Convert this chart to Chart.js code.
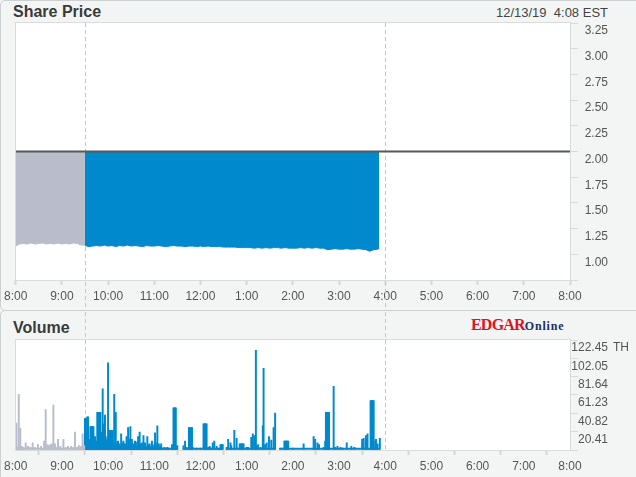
<!DOCTYPE html>
<html><head><meta charset="utf-8">
<script src="https://cdn.jsdelivr.net/npm/chart.js@4.4.1/dist/chart.umd.min.js"></script>
<style>
html,body{margin:0;padding:0}
body{width:636px;height:477px;overflow:hidden;position:relative;background:#f3f5f5;font-family:"Liberation Sans",Arial,sans-serif}
.panel{position:absolute;left:0;width:680px;border:1px solid #ccd0d0;border-radius:5px;box-sizing:border-box}
#p1{top:0;height:311px}
#p2{top:310px;height:200px}
.title{position:absolute;font-weight:bold;font-size:16px;color:#3a3a3a;white-space:nowrap}
#stamp{position:absolute;right:28px;top:5px;font-size:13px;color:#444;white-space:pre}
#logo{position:absolute;left:471px;top:316px;white-space:nowrap;font-family:"Liberation Serif","Times New Roman",serif;font-weight:bold}
#logo .e{color:#e3101e;font-size:16px;letter-spacing:-0.8px}
#logo .o{color:#1c2f66;font-size:12px;letter-spacing:0.8px}
canvas{position:absolute;left:0;top:0}
</style></head>
<body>
<div class="panel" id="p1"></div>
<div class="panel" id="p2"></div>
<div class="title" style="left:13px;top:3px">Share Price</div>
<div id="stamp">12/13/19  4:08 EST</div>
<div class="title" style="left:13px;top:319px">Volume</div>
<div id="logo"><span class="e">EDGAR</span><span class="o">Online</span></div>
<canvas id="price" width="636" height="477"></canvas>
<canvas id="volume" width="636" height="477"></canvas>
<script>
// ---------- data ----------
const dayStart = "8:00";
const dayEnd = "20:00";
const xTickTimes = ["8:00","9:00","10:00","11:00","12:00","13:00","14:00","15:00","16:00","17:00","18:00","19:00","20:00"];
const xTickLabels = ["8:00","9:00","10:00","11:00","12:00","1:00","2:00","3:00","4:00","5:00","6:00","7:00","8:00"];
const sessionMarks = ["9:30","16:00"];

const prevClose = 2.00;
const priceTicks = [0.75,1.00,1.25,1.50,1.75,2.00,2.25,2.50,2.75,3.00,3.25];

const priceStepMin = 5;
const prePriceStart = "8:00";
const prePrice = [1.08,1.10,1.105,1.10,1.11,1.10,1.105,1.11,1.10,1.105,1.10,1.11,1.10,1.105,1.10,1.11,1.105,1.09,1.09];
const regPriceStart = "9:30";
const regPrice = [1.085,1.075,1.08,1.085,1.08,1.09,1.08,1.085,1.075,1.085,1.08,1.09,1.08,1.085,1.08,1.075,1.085,1.08,1.08,1.085,
  1.08,1.075,1.08,1.085,1.08,1.08,1.075,1.08,1.08,1.075,1.08,1.075,1.08,1.075,1.075,1.075,1.07,1.07,1.07,1.07,
  1.065,1.065,1.065,1.065,1.06,1.065,1.06,1.065,1.06,1.065,1.065,1.06,1.065,1.06,1.06,1.06,1.065,1.06,1.065,1.06,
  1.065,1.06,1.06,1.045,1.05,1.055,1.05,1.05,1.055,1.05,1.05,1.055,1.05,1.045,1.03,1.045,1.05];
const lastTradeTime = "15:52";
const lastTradePrice = 1.055;

const volTicks = [0,20.41,40.82,61.23,81.64,102.05,122.45];
const volUnit = "TH";

const preVolTimes = ["8:00","8:01","8:02","8:04","8:06","8:08","8:10","8:13","8:16","8:19","8:22","8:25","8:29","8:33","8:37","8:39","8:41","8:43","8:45","8:47","8:49","8:51","8:53","8:55","8:58","9:02","9:05","9:08","9:12","9:15","9:17","9:20","9:22","9:25","9:27","9:29"];
const preVolValues = [30,30,3,62,24,4,3,8,4,3,8,3,6,4,10,45,6,5,6,7,50,7,3,12,4,12,3,4,4,3,20,3,5,4,18,5];

const regVolTimes = ["9:30","9:31","9:32","9:33","9:34","9:35","9:36","9:37","9:38","9:39","9:40","9:41","9:42","9:43","9:44","9:45","9:46","9:47","9:48","9:49",
  "9:50","9:51","9:52","9:53","9:54","9:55","9:56","9:57","9:58","9:59","10:00","10:01","10:02","10:03","10:04","10:05","10:06","10:07","10:08","10:09",
  "10:10","10:11","10:12","10:13","10:14","10:15","10:16","10:17","10:18","10:19","10:20","10:21","10:22","10:23","10:24","10:25","10:26","10:27","10:28","10:29",
  "10:30","10:31","10:32","10:33","10:34","10:35","10:36","10:37","10:38","10:39","10:40","10:41","10:42","10:43","10:44","10:45","10:46","10:47","10:48","10:49",
  "10:50","10:51","10:52","10:53","10:54","10:55","10:56","10:57","10:58","10:59","11:00","11:01","11:02","11:03","11:04","11:05","11:06","11:07","11:08","11:09",
  "11:10","11:13","11:15","11:17","11:19","11:23","11:24","11:25","11:26","11:27","11:28","11:29","11:30",
  "11:38","11:40","11:42","11:45","11:46","11:47","11:48","11:49","11:50","11:55","12:00","12:04","12:05","12:06","12:07","12:08","12:10","12:12","12:14","12:16","12:18","12:21","12:24","12:26","12:27","12:28","12:29",
  "12:34","12:36","12:39","12:40","12:44","12:47","12:51","12:52","12:53","12:54","12:55","12:56","13:00","13:01","13:02","13:06","13:08","13:10","13:12","13:13","13:15","13:18","13:21","13:22","13:24","13:26","13:29","13:32","13:35","13:37",
  "13:45","13:49","13:50","13:51","13:52","13:53","13:54","14:00","14:14","14:27","14:29","14:32","14:34","14:40","14:42","14:43","14:44","14:45","14:46","14:47","14:53","14:55","14:58",
  "15:02","15:05","15:10","15:16","15:20","15:30","15:32","15:35","15:37","15:41","15:42","15:43","15:44","15:45","15:47","15:48","15:50","15:53"];
const regVolValues = [35,35,35,37,37,8,12,26,26,26,26,26,10,15,6,10,42,42,42,42,
  42,20,14,68,29,20,39,15,10,12,97,18,22,22,22,22,22,8,62,12,
  42,6,9,10,5,7,4,18,6,8,10,4,7,4,15,5,25,8,12,26,
  9,12,6,7,4,10,8,5,9,15,6,20,7,4,8,3,16,6,8,4,
  3,15,4,6,7,3,4,10,5,3,6,19,8,4,27,5,7,3,4,7,
  2,3,2,3,2,6,2,47,47,47,47,4,5,
  5,10,3,25,25,25,25,25,3,2,2,29,29,29,29,29,3,4,2,8,10,4,2,6,6,6,6,
  3,12,8,5,22,13,7,7,7,7,7,7,3,3,3,14,18,16,111,5,6,3,27,91,6,8,15,11,25,41,
  2,10,10,10,10,10,10,2,7,15,12,8,6,3,10,42,42,42,42,42,71,3,4,
  3,2,8,4,3,12,13,16,18,55,55,55,55,55,10,12,7,13];

const floorVolume = 1.5;
const preFloorRanges = [["8:00","9:29"]];
const regFloorRanges = [["9:30","11:30"],["11:37","12:29"],["12:33","13:37"],["13:42","15:53"]];

// ---------- helpers ----------
const startHour = Number(dayStart.split(":")[0]);
function toMin(t){ const [h,m] = t.split(":").map(Number); return (h - startHour) * 60 + m; }
function floorData(ranges){
  const out = [];
  ranges.forEach(([a,b]) => { out.push({x:toMin(a),y:floorVolume},{x:toMin(b),y:floorVolume},{x:toMin(b)+0.5,y:null}); });
  return out;
}

const FONT = '"Liberation Sans", Arial, sans-serif';
Chart.defaults.font.family = FONT;
Chart.defaults.font.size = 12;
Chart.defaults.color = "#555";
Chart.defaults.animation = false;

const BLUE = "#0089cc";
const GREY = "#b9bdcb";

const panelPlugin = {
  id: "panel",
  beforeDraw(chart, args, o){
    const a = chart.chartArea, ctx = chart.ctx;
    ctx.save();
    ctx.fillStyle = "#ffffff";
    ctx.fillRect(a.left, a.top, a.right - a.left, a.bottom - a.top);
    ctx.restore();
  },
  beforeDatasetsDraw(chart, args, o){
    const a = chart.chartArea, ctx = chart.ctx, xs = chart.scales.x;
    const top = o.spanTop === undefined ? a.top : o.spanTop;
    const bottom = o.spanBottom === undefined ? a.bottom : o.spanBottom;
    ctx.save();
    ctx.strokeStyle = "#c4c8c8";
    ctx.lineWidth = 1;
    ctx.setLineDash([4,3]);
    sessionMarks.forEach(t => {
      const x = Math.round(xs.getPixelForValue(toMin(t))) + 0.5;
      ctx.beginPath(); ctx.moveTo(x, top); ctx.lineTo(x, bottom); ctx.stroke();
    });
    ctx.restore();
  },
  afterDraw(chart, args, o){
    const a = chart.chartArea, ctx = chart.ctx;
    ctx.save();
    ctx.strokeStyle = "#d9dcdc";
    ctx.lineWidth = 1;
    ctx.strokeRect(Math.round(a.left) - 0.5, Math.round(a.top) - 0.5, Math.round(a.right - a.left) + 1, Math.round(a.bottom - a.top) + 1);
    if (o.unit) {
      const ys = chart.scales.y;
      ctx.font = "12px " + FONT;
      const x = ys.right + 5;
      const y = ys.getPixelForValue(volTicks[volTicks.length - 1]) + ys.options.ticks.labelOffset;
      ctx.fillStyle = "#555";
      ctx.textBaseline = "middle";
      ctx.textAlign = "left";
      ctx.fillText(o.unit, x, y);
    }
    ctx.restore();
  }
};

function xScale(height){
  return {
    type: "linear", min: toMin(dayStart), max: toMin(dayEnd), offset: false,
    afterBuildTicks: s => { s.ticks = xTickTimes.map(t => ({value: toMin(t)})); },
    afterFit: s => { s.height = height; },
    grid: { drawOnChartArea: false, drawTicks: true, tickLength: 5, tickWidth: 2, tickColor: "#d3d7d7" },
    border: { display: false },
    ticks: { autoSkip: false, maxRotation: 0, padding: 4, color: "#555", callback: (v, i) => xTickLabels[i] }
  };
}
function yScale(tickValues, fmt){
  return {
    position: "right", min: tickValues[0], max: tickValues[tickValues.length - 1],
    afterBuildTicks: s => { s.ticks = tickValues.map(v => ({value: v})); },
    afterFit: s => { s.width = 38; },
    grid: { drawOnChartArea: false, drawTicks: true, tickLength: 8, color: "#d6dada" },
    border: { display: false },
    ticks: { crossAlign: "far", padding: 5, labelOffset: 8, color: "#555", callback: fmt }
  };
}

// ---------- price chart ----------
const prePriceData = prePrice.map((p, i) => ({x: toMin(prePriceStart) + i * priceStepMin, y: p}));
const regPriceData = regPrice.map((p, i) => ({x: toMin(regPriceStart) + i * priceStepMin, y: p}));
regPriceData.push({x: toMin(lastTradeTime), y: lastTradePrice});

new Chart(document.getElementById("price"), {
  type: "line",
  data: { datasets: [
    { data: [{x: toMin(dayStart), y: prevClose}, {x: toMin(dayEnd), y: prevClose}], borderColor: "#585858", borderWidth: 2, pointRadius: 0, fill: false, order: 0 },
    { data: regPriceData, borderColor: BLUE, backgroundColor: BLUE, borderWidth: 1, pointRadius: 0, tension: 0, fill: {value: prevClose}, order: 1 },
    { data: prePriceData, borderColor: GREY, backgroundColor: GREY, borderWidth: 1, pointRadius: 0, tension: 0, fill: {value: prevClose}, order: 2 }
  ]},
  options: {
    responsive: false,
    layout: { padding: { left: 13, top: 23, right: 28, bottom: 167 } },
    plugins: { legend: {display: false}, tooltip: {enabled: false}, panel: { spanBottom: 310 } },
    scales: {
      x: xScale(30),
      y: yScale(priceTicks, v => v === priceTicks[0] ? "" : v.toFixed(2))
    }
  },
  plugins: [panelPlugin]
});

// ---------- volume chart ----------
new Chart(document.getElementById("volume"), {
  type: "bar",
  data: { datasets: [
    { data: preVolTimes.map((t, i) => ({x: toMin(t), y: preVolValues[i]})), backgroundColor: GREY, barThickness: 1.3, grouped: false },
    { data: regVolTimes.map((t, i) => ({x: toMin(t), y: regVolValues[i]})), backgroundColor: BLUE, barThickness: 1.3, grouped: false },
    { type: "line", data: floorData(preFloorRanges), borderColor: GREY, borderWidth: 2, pointRadius: 0, spanGaps: false, fill: false },
    { type: "line", data: floorData(regFloorRanges), borderColor: BLUE, borderWidth: 2, pointRadius: 0, spanGaps: false, fill: false }
  ]},
  options: {
    responsive: false,
    layout: { padding: { left: 13, top: 340, right: 28, bottom: 0 } },
    plugins: { legend: {display: false}, tooltip: {enabled: false}, panel: { spanTop: 312, unit: volUnit } },
    scales: {
      x: xScale(27),
      y: yScale(volTicks, v => v === volTicks[0] ? "" : v.toFixed(2))
    }
  },
  plugins: [panelPlugin]
});
</script>
</body></html>
